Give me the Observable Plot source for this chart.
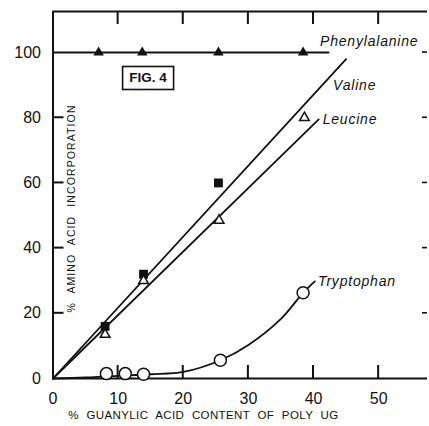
<!DOCTYPE html>
<html>
<head>
<meta charset="utf-8">
<script src="https://cdn.jsdelivr.net/npm/d3@7"></script>
<script src="https://cdn.jsdelivr.net/npm/@observablehq/plot@0.6"></script>
<style>
  html, body { margin: 0; padding: 0; background: #fff; }
  #chart svg { display: block; }
</style>
</head>
<body>
<div id="chart"></div>
<script>
// ---- data ----
const pheX = [7.0, 13.7, 25.4, 38.4];
const pheY = [100, 100, 100, 100];
const pheLineX = [0, 42.3];
const pheLineY = [100, 100];

const valX = [8.0, 13.9, 25.4];
const valY = [16, 32, 60];
const valLineX = [0, 45];
const valLineY = [0, 98];

const leuX = [8.0, 13.9, 25.5, 38.6];
const leuY = [13.5, 30, 48.5, 80];
const leuLineX = [0, 40.8];
const leuLineY = [0, 79.5];

const trpX = [8.2, 11.1, 13.9, 25.7, 38.4];
const trpY = [1.5, 1.5, 1.3, 5.6, 26.3];
const trpCurveX = [0, 5, 10, 15, 20, 25.7, 30, 35, 38.4, 40.2];
const trpCurveY = [0, 0.3, 0.8, 1.3, 2.0, 5.6, 10.3, 18.3, 26.3, 29.8];

const seriesNames = ["Phenylalanine", "Valine", "Leucine", "Tryptophan"];
const labelX = [41.0, 43.0, 41.4, 40.7];
const labelY = [103.4, 90.0, 79.5, 29.8];

const xTickLabels = [0, 10, 20, 30, 40, 50];
const xTickMarks = [10, 20, 30, 40, 50];
const yTickLabels = [0, 20, 40, 60, 80, 100];
const yTickMarksLeft = [20, 40, 60, 80];
const yTickMarksRight = [20, 40, 60, 80, 100];

const xTitle = "% GUANYLIC ACID CONTENT OF POLY UG";
const yTitle = "% AMINO ACID INCORPORATION";
const figLabel = "FIG. 4";
const figX = 14.6;
const figY = 92.2;

const xMax = 57.5;
const yMax = 112.6;

// ---- build tables ----
const zip = (xs, ys) => xs.map((x, i) => ({x, y: ys[i]}));
const phe = zip(pheX, pheY), pheLine = zip(pheLineX, pheLineY);
const val = zip(valX, valY), valLine = zip(valLineX, valLineY);
const leu = zip(leuX, leuY), leuLine = zip(leuLineX, leuLineY);
const trp = zip(trpX, trpY), trpCurve = zip(trpCurveX, trpCurveY);
const labels = seriesNames.map((name, i) => ({name, x: labelX[i], y: labelY[i]}));

const font = "'Liberation Sans', Arial, sans-serif";
const ink = "#111";
const SVGNS = "http://www.w3.org/2000/svg";

// inward tick marks placed through the scales; dxp, dyp give pixel direction and length
function tickRender(dxp, dyp, width) {
  return function(index, scales, values) {
    const g = document.createElementNS(SVGNS, "g");
    for (const i of index) {
      const x = values.x[i], y = values.y[i];
      const line = document.createElementNS(SVGNS, "line");
      line.setAttribute("x1", x); line.setAttribute("y1", y);
      line.setAttribute("x2", x + dxp); line.setAttribute("y2", y + dyp);
      line.setAttribute("stroke", ink);
      line.setAttribute("stroke-width", width);
      g.appendChild(line);
    }
    return g;
  };
}
function textAttrs(attrs) {
  return function(index, scales, values, dimensions, context, next) {
    const g = next(index, scales, values, dimensions, context);
    for (const [k, v] of Object.entries(attrs)) if (k !== "textLength") g.setAttribute(k, v);
    if (attrs.textLength) {
      g.querySelectorAll("text").forEach(t => { t.setAttribute("textLength", attrs.textLength); t.setAttribute("lengthAdjust", "spacing"); });
    }
    return g;
  };
}

const chart = Plot.plot({
  width: 429,
  height: 426,
  marginLeft: 52.5,
  marginRight: 2,
  marginTop: 11,
  marginBottom: 48,
  style: {fontFamily: font, background: "#fff", color: ink},
  x: {domain: [0, xMax]},
  y: {domain: [0, yMax]},
  marks: [
    // axis labels (no ticks)
    Plot.axisX(xTickLabels, {anchor: "bottom", label: null, tickSize: 0, tickPadding: 14, fontSize: 16, fill: ink}),
    Plot.axisY(yTickLabels, {anchor: "left", label: null, tickSize: 0, tickPadding: 12, fontSize: 16, fill: ink}),
    // inward ticks
    Plot.dot(xTickMarks, {x: d => d, y: 0, render: tickRender(0, -13, 2)}),
    Plot.dot(xTickMarks, {x: d => d, y: yMax, render: tickRender(0, 13, 2)}),
    Plot.dot(yTickMarksLeft, {x: 0, y: d => d, render: tickRender(11, 0, 2)}),
    Plot.dot(yTickMarksRight, {x: xMax, y: d => d, render: tickRender(-5, 0, 1.6)}),
    // frame
    Plot.ruleY([0], {stroke: ink, strokeWidth: 2}),
    Plot.ruleY([yMax], {stroke: ink, strokeWidth: 2}),
    Plot.ruleX([0], {stroke: ink, strokeWidth: 2}),
    // lines
    Plot.line(pheLine, {x: "x", y: "y", stroke: ink, strokeWidth: 2}),
    Plot.line(valLine, {x: "x", y: "y", stroke: ink, strokeWidth: 1.8}),
    Plot.line(leuLine, {x: "x", y: "y", stroke: ink, strokeWidth: 1.8}),
    Plot.line(trpCurve, {x: "x", y: "y", stroke: ink, strokeWidth: 1.8, curve: "catmull-rom"}),
    // points
    Plot.dot(phe, {x: "x", y: "y", symbol: "triangle", r: 3.9, fill: ink, stroke: "none"}),
    Plot.dot(val, {x: "x", y: "y", symbol: "square", r: 5, fill: ink, stroke: "none"}),
    Plot.dot(leu, {x: "x", y: "y", symbol: "triangle", r: 3.6, fill: "#fff", stroke: ink, strokeWidth: 1.5}),
    Plot.dot(trp, {x: "x", y: "y", symbol: "circle", r: 6, fill: "#fff", stroke: ink, strokeWidth: 1.5}),
    // series labels
    Plot.text(labels, {x: "x", y: "y", text: "name", textAnchor: "start", fontSize: 14, fontStyle: "italic", fill: ink,
      render: textAttrs({"letter-spacing": "0.8px"})}),
    // FIG. 4 box
    Plot.text([figLabel], {
      x: figX, y: figY, text: d => d, fontSize: 13.5, fontWeight: "bold", fill: ink,
      render(index, scales, values, dimensions, context, next) {
        const g = next(index, scales, values, dimensions, context);
        const cx = scales.x(figX), cy = scales.y(figY);
        const rect = document.createElementNS(SVGNS, "rect");
        rect.setAttribute("x", cx - 25.5);
        rect.setAttribute("y", cy - 11.5);
        rect.setAttribute("width", 51);
        rect.setAttribute("height", 23);
        rect.setAttribute("fill", "none");
        rect.setAttribute("stroke", ink);
        rect.setAttribute("stroke-width", 1.6);
        g.appendChild(rect);
        return g;
      }
    }),
    // axis titles
    Plot.text([yTitle], {frameAnchor: "left", textAnchor: "middle", lineAnchor: "middle", dx: 18.5, dy: 14, rotate: -90,
      text: d => d, fontSize: 10.5, fill: ink,
      render: textAttrs({"word-spacing": "5px", textLength: 207})}),
    Plot.text([xTitle], {frameAnchor: "bottom", textAnchor: "middle", lineAnchor: "middle", dx: -37, dy: 37,
      text: d => d, fontSize: 11.5, fill: ink,
      render: textAttrs({"word-spacing": "4px", textLength: 270})})
  ]
});
document.getElementById("chart").appendChild(chart);
</script>
</body>
</html>
